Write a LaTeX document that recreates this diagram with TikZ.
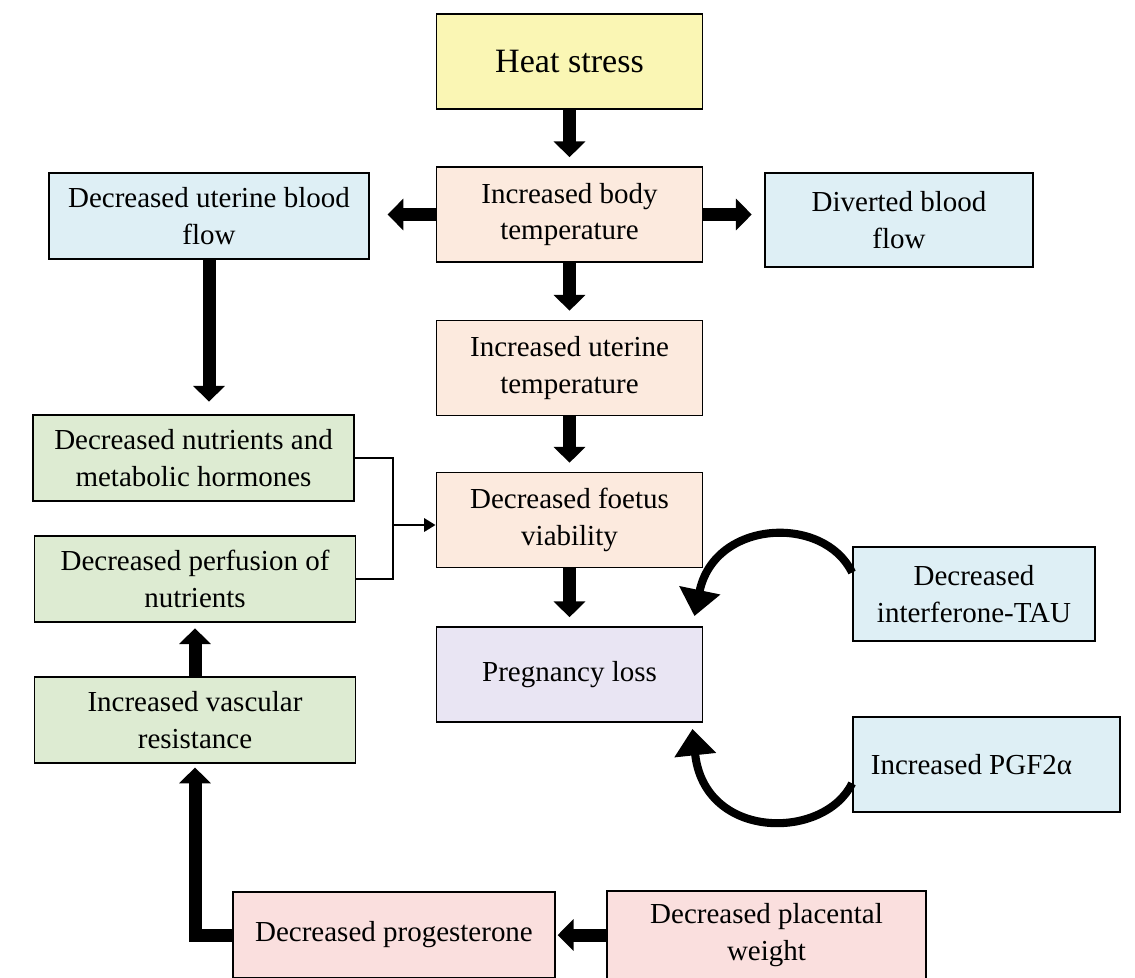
\documentclass[tikz,border=0pt]{standalone}
\usepackage{fontspec}
\setmainfont{Liberation Serif}
\usetikzlibrary{arrows.meta}
\definecolor{hsyel}{RGB}{250,246,180}
\definecolor{peach}{RGB}{252,234,222}
\definecolor{lblue}{RGB}{222,239,245}
\definecolor{lgreen}{RGB}{221,235,210}
\definecolor{lilac}{RGB}{233,229,243}
\definecolor{lpink}{RGB}{250,223,222}
\begin{document}
\begin{tikzpicture}[x=0.02cm,y=-0.02cm,
  box/.style={draw,line width=1.1pt,align=center,inner sep=2pt,
    minimum width=5.32cm,minimum height=1.9cm,font=\fontsize{16.5}{21}\selectfont},
  wide/.style={minimum width=6.42cm,minimum height=1.72cm},
  big/.style={line width=7.4pt,-{Triangle[width=17.5pt,length=9pt]}},
  curv/.style={line width=4.6pt,-{Triangle[width=23pt,length=15pt]}},
  thin/.style={line width=1.4pt}]
  \path[use as bounding box,fill=white] (0,0) rectangle (1135,977);
  \clip (0,0) rectangle (1135,977);
  \node[box,fill=hsyel,font=\fontsize{19.4}{23}\selectfont] (heat) at (569.5,61.5) {Heat stress};
  \node[box,fill=peach] (body) at (569.5,214.5) {Increased body\\temperature};
  \node[box,fill=peach] (utemp) at (569.5,368) {Increased uterine\\temperature};
  \node[box,fill=peach] (foetus) at (569.5,520) {Decreased foetus\\viability};
  \node[box,fill=lilac] (preg) at (569.5,674.5) {Pregnancy loss};
  \node[box,wide,fill=lblue,minimum width=6.4cm] (ublood) at (209,216) {Decreased uterine blood\\flow};
  \node[box,fill=lblue,minimum width=5.36cm,minimum height=1.88cm] (divert) at (899,220) {Diverted blood\\flow};
  \node[box,wide,fill=lgreen] (nutri) at (193.5,458) {Decreased nutrients and\\metabolic hormones};
  \node[box,wide,fill=lgreen] (perf) at (195,579) {Decreased perfusion of\\nutrients};
  \node[box,wide,fill=lgreen] (vasc) at (195,720) {Increased vascular\\resistance};
  \node[box,fill=lblue,minimum width=4.84cm,minimum height=1.88cm] (iftau) at (974,594) {Decreased\\interferone-TAU};
  \node[box,fill=lblue,minimum width=5.34cm] (pgf) at (986.5,764.5) {Increased PGF2α\hspace*{0.6cm}};
  \node[box,wide,fill=lpink,minimum width=6.44cm] (prog) at (394,935) {Decreased progesterone};
  \node[box,fill=lpink,minimum width=6.38cm,minimum height=1.76cm] (plac) at (766.5,935) {Decreased placental\\weight};
  \coordinate (bk) at (393,525);
  \draw[big,shorten >=5pt] (heat) -- (body);
  \draw[big,shorten >=5pt] (body) -- (utemp);
  \draw[big,shorten >=5pt] (utemp) -- (foetus);
  \draw[big,shorten >=5pt] (foetus) -- (preg);
  \draw[big,shorten >=10pt] (body.west) -- (body.west -| ublood.east);
  \draw[big,shorten >=7pt] (body.east) -- (body.east -| divert.west);
  \draw[big,shorten >=7pt] (ublood.south) -- (ublood.south |- nutri.north);
  \draw[big,shorten >=3pt] (vasc) -- (perf);
  \draw[big,shorten >=2pt] (prog.west) -| (vasc.south);
  \draw[big,shorten >=1pt] (plac) -- (prog);
  \draw[thin] (nutri.east) -| (bk) |- (perf.east);
  \draw[thin,-{Triangle[width=7.5pt,length=6.5pt]}] (bk) -- (bk -| foetus.west);
  \draw[curv] (iftau.170) .. controls +(-28,-58) and +(20,-97) .. ([shift={(-9,-10)}]preg.north east);
  \draw[curv] (pgf.188) .. controls +(-28,57) and +(12,112) .. ([shift={(-11,6)}]preg.south east);
\end{tikzpicture}
\end{document}
